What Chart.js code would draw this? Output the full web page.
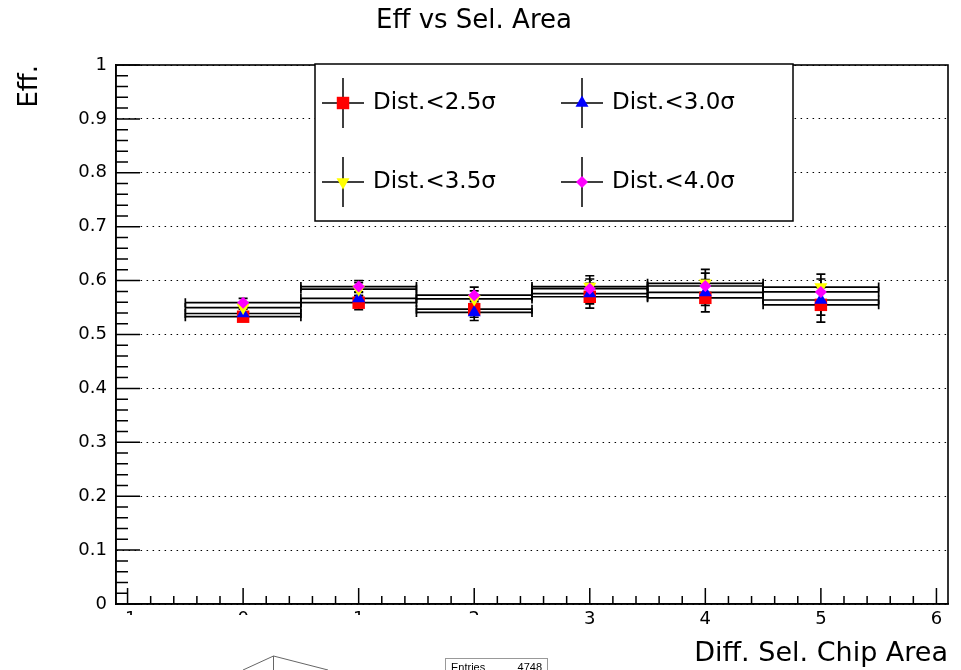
<!DOCTYPE html>
<html>
<head>
<meta charset="utf-8">
<title>Eff vs Sel. Area</title>
<script src="https://cdn.jsdelivr.net/npm/chart.js"></script>
<style>
  html, body { margin: 0; padding: 0; background: #fff; }
  canvas { display: block; }
</style>
</head>
<body>
<canvas id="effChart" width="961" height="670"></canvas>
<script>
// ---- data ----
const binCenters   = [0, 1, 2, 3, 4, 5];
const binHalfWidth = [0.5, 0.5, 0.5, 0.5, 0.5, 0.5];

const effDist25 = [0.533, 0.559, 0.547, 0.570, 0.568, 0.555];
const errDist25 = [0.008, 0.013, 0.015, 0.021, 0.026, 0.032];

const effDist30 = [0.539, 0.567, 0.541, 0.576, 0.578, 0.564];
const errDist30 = [0.008, 0.012, 0.015, 0.019, 0.024, 0.028];

const effDist35 = [0.550, 0.584, 0.566, 0.589, 0.595, 0.588];
const errDist35 = [0.008, 0.012, 0.015, 0.020, 0.026, 0.024];

const effDist40 = [0.559, 0.589, 0.573, 0.585, 0.590, 0.579];
const errDist40 = [0.008, 0.011, 0.015, 0.018, 0.024, 0.024];

const seriesLabels = ["Dist.<2.5σ", "Dist.<3.0σ", "Dist.<3.5σ", "Dist.<4.0σ"];
const xTickValues  = [-1, 0, 1, 2, 3, 4, 5, 6];
const yTickValues  = [0, 0.1, 0.2, 0.3, 0.4, 0.5, 0.6, 0.7, 0.8, 0.9, 1];

const FONT = "'DejaVu Sans', 'Liberation Sans', sans-serif";

function makePoints(vals, errs) {
  return binCenters.map((x, i) => ({ x, y: vals[i], ex: binHalfWidth[i], ey: errs[i] }));
}

// ---- error bars (black, ROOT style, below markers) ----
const errorBars = {
  id: "errorBars",
  beforeDatasetsDraw(chart) {
    const ctx = chart.ctx;
    const xs = chart.scales.x, ys = chart.scales.y;
    const cap = 4.5;
    ctx.save();
    ctx.strokeStyle = "#000";
    ctx.lineWidth = 1.7;
    chart.data.datasets.forEach(ds => {
      ds.data.forEach(p => {
        const px = xs.getPixelForValue(p.x);
        const py = ys.getPixelForValue(p.y);
        const xl = xs.getPixelForValue(p.x - p.ex);
        const xr = xs.getPixelForValue(p.x + p.ex);
        const yt = ys.getPixelForValue(p.y + p.ey);
        const yb = ys.getPixelForValue(p.y - p.ey);
        ctx.beginPath();
        ctx.moveTo(xl, py); ctx.lineTo(xr, py);
        ctx.moveTo(xl, py - cap); ctx.lineTo(xl, py + cap);
        ctx.moveTo(xr, py - cap); ctx.lineTo(xr, py + cap);
        ctx.moveTo(px, yt); ctx.lineTo(px, yb);
        ctx.moveTo(px - cap, yt); ctx.lineTo(px + cap, yt);
        ctx.moveTo(px - cap, yb); ctx.lineTo(px + cap, yb);
        ctx.stroke();
      });
    });
    ctx.restore();
  }
};

function drawMarker(ctx, ds, x, y) {
  ctx.fillStyle = ds.pointBackgroundColor;
  const opts = { pointStyle: ds.pointStyle, rotation: ds.pointRotation || 0, radius: ds.pointRadius, borderWidth: 0 };
  Chart.helpers.drawPoint(ctx, opts, x, y);
}

// ---- frame, inward ticks, legend box ----
const rootFrame = {
  id: "rootFrame",
  afterDatasetsDraw(chart) {
    const ctx = chart.ctx;
    const a = chart.chartArea;
    const xs = chart.scales.x, ys = chart.scales.y;
    ctx.save();
    ctx.strokeStyle = "#000";
    ctx.lineWidth = 1.6;
    ctx.strokeRect(a.left, a.top, a.right - a.left, a.bottom - a.top);

    // y ticks: major every 0.1, minor every 0.02
    ctx.lineWidth = 1.5;
    ctx.beginPath();
    for (let k = 0; k <= 50; k++) {
      const py = ys.getPixelForValue(k / 50);
      const len = (k % 5 === 0) ? 24 : 12;
      ctx.moveTo(a.left, py); ctx.lineTo(a.left + len, py);
    }
    // x ticks: major every 1, minor every 0.2
    for (let k = -5; k <= 30; k++) {
      const px = xs.getPixelForValue(k / 5);
      const len = (k % 5 === 0) ? 16 : 8;
      ctx.moveTo(px, a.bottom); ctx.lineTo(px, a.bottom - len);
    }
    ctx.stroke();

    // legend
    const box = { l: 315, t: 64, r: 793, b: 221 };
    ctx.fillStyle = "#fff";
    ctx.fillRect(box.l, box.t, box.r - box.l, box.b - box.t);
    ctx.lineWidth = 1.5;
    ctx.strokeRect(box.l, box.t, box.r - box.l, box.b - box.t);
    const cols = [343, 582], rows = [103, 182];
    chart.data.datasets.forEach((ds, i) => {
      const cx = cols[i % 2], cy = rows[Math.floor(i / 2)];
      ctx.beginPath();
      ctx.moveTo(cx - 21, cy); ctx.lineTo(cx + 21, cy);
      ctx.moveTo(cx, cy - 25); ctx.lineTo(cx, cy + 25);
      ctx.strokeStyle = "#000";
      ctx.lineWidth = 1.5;
      ctx.stroke();
      drawMarker(ctx, ds, cx, cy);
      ctx.fillStyle = "#000";
      ctx.font = "23px " + FONT;
      ctx.textAlign = "left";
      ctx.textBaseline = "middle";
      ctx.fillText(ds.label, cx + 30, cy);
    });
    ctx.restore();
  },
  afterDraw(chart) {
    // part of another canvas window overlapping the lower left corner
    const ctx = chart.ctx;
    ctx.save();
    ctx.fillStyle = "#fff";
    ctx.fillRect(0, 615, 552, 55);
    ctx.strokeStyle = "#666";
    ctx.lineWidth = 1;
    ctx.beginPath();
    ctx.moveTo(243, 670); ctx.lineTo(273.5, 656); ctx.lineTo(328, 670);
    ctx.moveTo(273.5, 656); ctx.lineTo(273.5, 670);
    ctx.stroke();
    ctx.strokeStyle = "#999";
    ctx.strokeRect(445.5, 658.5, 102, 20);
    ctx.fillStyle = "#000";
    ctx.font = "11px 'Liberation Sans', sans-serif";
    ctx.textBaseline = "alphabetic";
    ctx.textAlign = "left";
    ctx.fillText("Entries", 451, 671);
    ctx.textAlign = "right";
    ctx.fillText("4748", 542, 671);
    ctx.restore();
  }
};

const chart = new Chart(document.getElementById("effChart"), {
  type: "scatter",
  data: {
    datasets: [
      { label: seriesLabels[0], data: makePoints(effDist25, errDist25), order: 4,
        pointStyle: "rect", pointRadius: 8.8, pointBackgroundColor: "#ff0000" },
      { label: seriesLabels[1], data: makePoints(effDist30, errDist30), order: 3,
        pointStyle: "triangle", pointRadius: 7.5, pointBackgroundColor: "#0000ff" },
      { label: seriesLabels[2], data: makePoints(effDist35, errDist35), order: 2,
        pointStyle: "triangle", pointRotation: 180, pointRadius: 7.5, pointBackgroundColor: "#ffff00" },
      { label: seriesLabels[3], data: makePoints(effDist40, errDist40), order: 1,
        pointStyle: "rectRot", pointRadius: 6, pointBackgroundColor: "#ff00ff" }
    ].map(ds => Object.assign(ds, {
      showLine: false,
      pointBorderWidth: 0,
      pointBorderColor: ds.pointBackgroundColor,
      pointHoverRadius: ds.pointRadius
    }))
  },
  options: {
    responsive: false,
    animation: false,
    events: [],
    layout: { padding: { top: 0, right: 13, left: 0, bottom: 0 } },
    plugins: {
      legend: { display: false },
      tooltip: { enabled: false },
      title: {
        display: true,
        text: "Eff vs Sel. Area",
        color: "#000",
        font: { family: FONT, size: 26, weight: "normal" },
        padding: { top: 6, bottom: 27.8 }
      }
    },
    scales: {
      x: {
        type: "linear",
        min: -1.1,
        max: 6.1,
        afterFit: s => { s.height = 66; },
        grid: { display: false, drawTicks: false },
        border: { display: true, color: "#000", width: 1.6 },
        afterBuildTicks: s => { s.ticks = xTickValues.map(v => ({ value: v })); },
        ticks: {
          color: "#000",
          padding: 5,
          font: { family: FONT, size: 18 },
          callback: v => String(v)
        },
        title: {
          display: true,
          text: "Diff. Sel. Chip Area",
          align: "end",
          color: "#000",
          font: { family: FONT, size: 27 },
          padding: { top: 0, bottom: 0 }
        }
      },
      y: {
        type: "linear",
        min: 0,
        max: 1,
        afterFit: s => { s.width = 116; },
        grid: {
          color: "#000",
          lineWidth: 1,
          drawTicks: false
        },
        border: { display: true, color: "#000", width: 1.6, dash: [1.5, 4.5] },
        afterBuildTicks: s => { s.ticks = yTickValues.map(v => ({ value: v })); },
        ticks: {
          color: "#000",
          padding: 9,
          font: { family: FONT, size: 18 },
          callback: v => String(+v.toFixed(1))
        },
        title: {
          display: true,
          text: "Eff.",
          align: "end",
          color: "#000",
          font: { family: FONT, size: 26 },
          padding: { top: 15, bottom: 0 }
        }
      }
    }
  },
  plugins: [errorBars, rootFrame]
});
</script>
</body>
</html>
